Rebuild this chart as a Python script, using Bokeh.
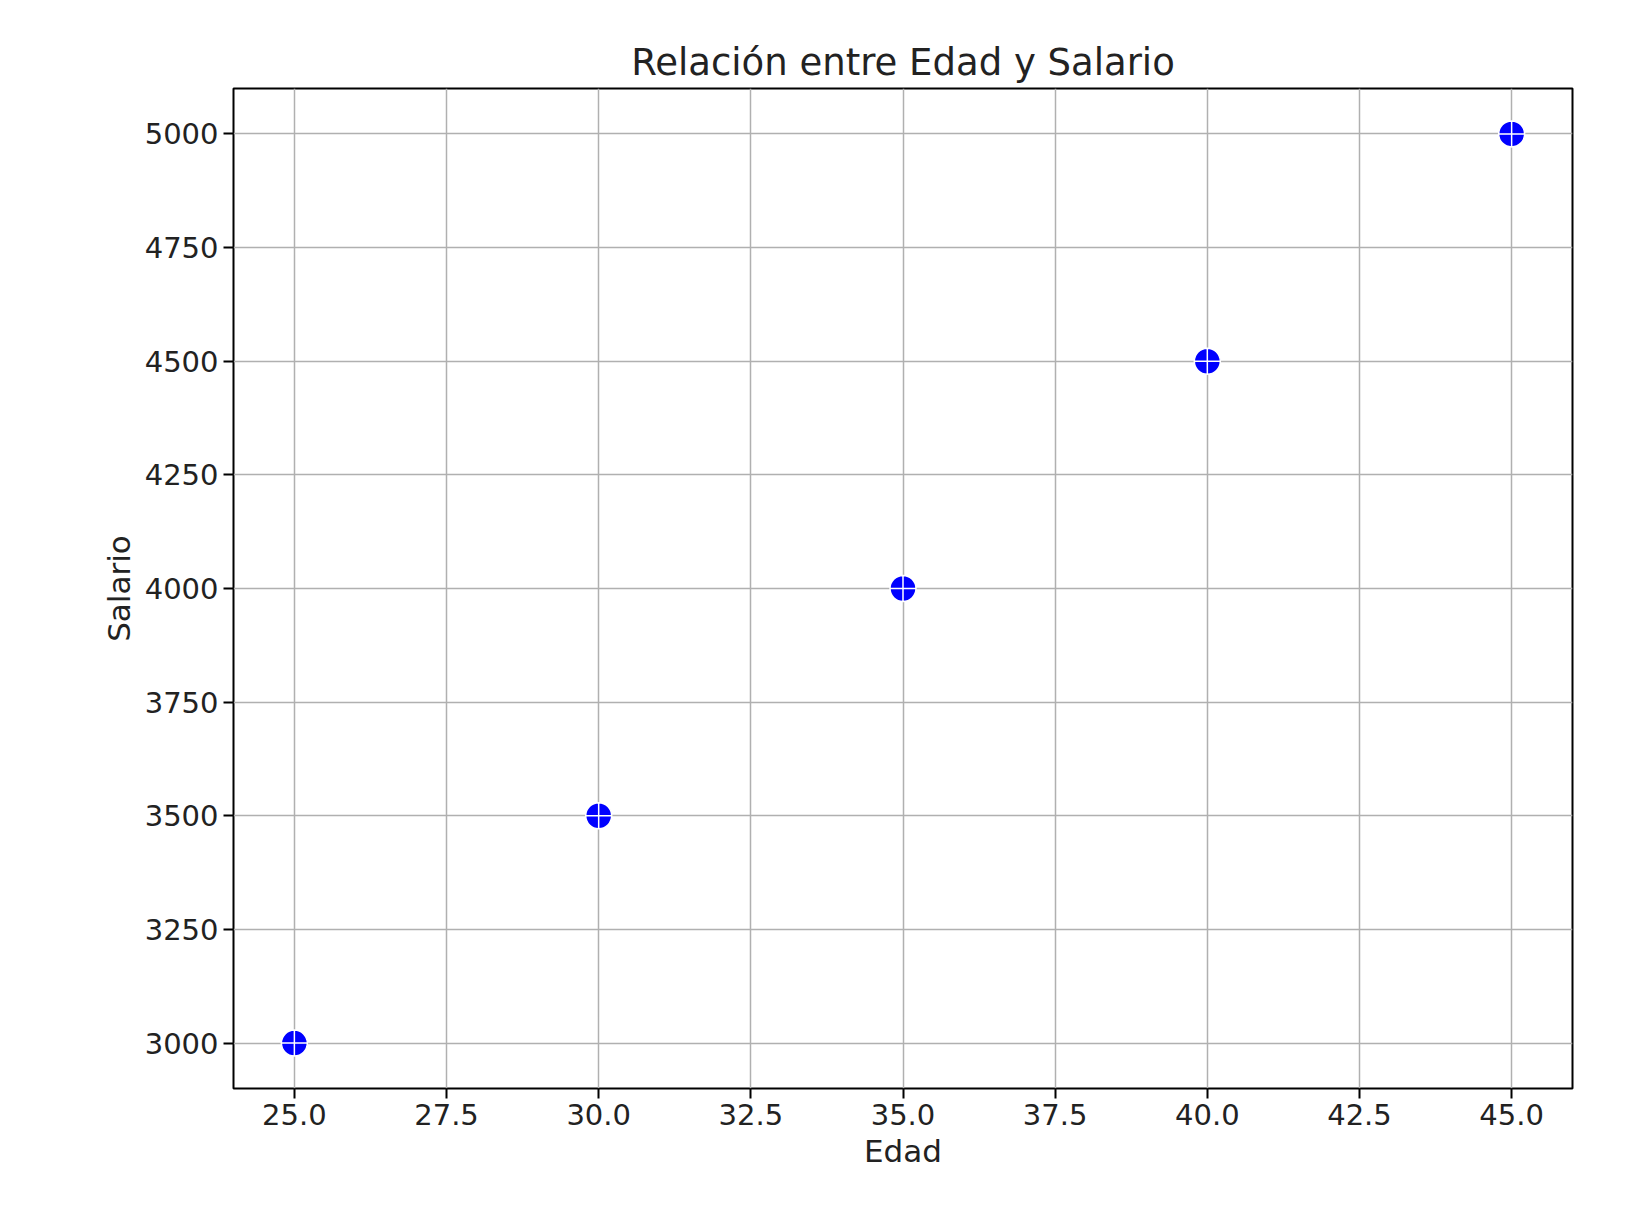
from bokeh.plotting import figure
from bokeh.embed import file_html
from bokeh.resources import INLINE
from bokeh.models import Range1d, FixedTicker, CustomJSTickFormatter

edad = [25, 30, 35, 40, 45]
salario = [3000, 3500, 4000, 4500, 5000]
xticks = [25.0, 27.5, 30.0, 32.5, 35.0, 37.5, 40.0, 42.5, 45.0]
yticks = [3000, 3250, 3500, 3750, 4000, 4250, 4500, 4750, 5000]

F = "DejaVu Sans"
p = figure(width=1620, height=1205, output_backend="svg", toolbar_location=None,
           x_range=Range1d(24, 46), y_range=Range1d(2900, 5100),
           min_border_left=233, min_border_right=48, min_border_top=88, min_border_bottom=117,
           title="Relación entre Edad y Salario")
p.title.align = "center"
p.title.text_font = F
p.title.text_font_size = "37px"
p.title.text_font_style = "normal"
p.title.text_color = "#222222"

p.scatter(edad, salario, marker="circle_cross", size=26, fill_color="blue",
          line_color="white", line_width=1.5)

p.xaxis.ticker = FixedTicker(ticks=xticks)
p.yaxis.ticker = FixedTicker(ticks=yticks)
p.xaxis.formatter = CustomJSTickFormatter(code="return tick.toFixed(1)")
p.xaxis.axis_label = "Edad"
p.yaxis.axis_label = "Salario"
for ax in (p.xaxis, p.yaxis):
    ax.axis_label_text_font = F
    ax.axis_label_text_font_size = "31px"
    ax.axis_label_text_font_style = "normal"
    ax.axis_label_text_color = "#222222"
    ax.major_label_text_font = F
    ax.major_label_text_font_size = "29px"
    ax.major_label_text_color = "#222222"
    ax.minor_tick_line_color = None
    ax.major_tick_out = 10
    ax.major_tick_in = 0
    ax.major_tick_line_width = 2
    ax.axis_line_color = None
p.grid.grid_line_color = "#b0b0b0"
p.grid.grid_line_width = 1.5
p.outline_line_color = "black"
p.outline_line_width = 2
p.outline_line_alpha = 1

open("out.html", "w").write(file_html(p, INLINE))
